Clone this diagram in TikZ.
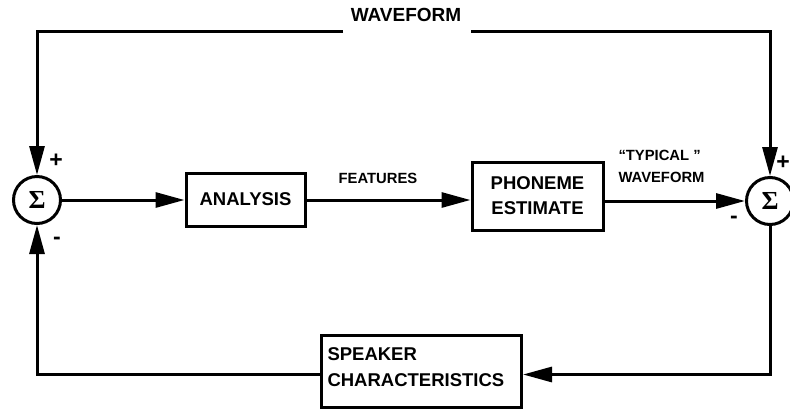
\documentclass[tikz,border=0pt]{standalone}
\usepackage{fontspec}
\setmainfont{Liberation Sans}
\newfontfamily\sigfont{Liberation Serif}
\usetikzlibrary{arrows.meta}
\begin{document}
\begin{tikzpicture}[x=1pt,y=-1pt,
  line width=3pt,
  arr/.style={-{Triangle[length=29pt,width=15pt]}},
  blk/.style={draw, line width=3pt, inner sep=0pt, font=\bfseries\fontsize{18.5}{25}\selectfont},
  sumnode/.style={draw, circle, minimum size=47pt, inner sep=0pt, font=\sigfont\bfseries\fontsize{26}{26}\selectfont},
  lbl/.style={font=\bfseries\fontsize{14.8}{22}\selectfont, inner sep=0pt},
  sgn/.style={font=\bfseries\fontsize{23}{23}\selectfont, inner sep=0pt}
]
\useasboundingbox (0,0) rectangle (790,408);
\clip (0,0) rectangle (790,408);
\node[sumnode] (c1) at (37,200) {Σ};
\node[sumnode] (c2) at (770,201) {Σ};
\node[blk, minimum width=119pt, minimum height=53pt] (ana) at (245.5,199.5) {ANALYSIS};
\node[blk, minimum width=131pt, minimum height=68pt, align=center] (phon) at (537.5,196) {PHONEME\\ESTIMATE};
\node[blk, anchor=north west, minimum width=200pt, minimum height=72pt] (spk) at (320,334) {};
\node[font=\bfseries\fontsize{18.5}{26}\selectfont, anchor=north west, align=left, inner sep=0pt] (spkt) at (326,346) {SPEAKER\\CHARACTERISTICS};

\node[font=\bfseries\fontsize{19}{19}\selectfont, inner sep=0pt] (wf) at (406,15) {WAVEFORM};
\node[lbl] (feat) at (378,178) {FEATURES};
\node[lbl, anchor=west, align=left] (typ) at (617,166) {“TYPICAL ”\\WAVEFORM};

\node[sgn] (p1) at (56,161) {+};
\node[sgn] (m1) at (57,241) {-};
\node[sgn] (p2) at (783,163) {+};
\node[sgn] (m2) at (734,220) {-};

\coordinate (wl) at (343,31);
\coordinate (wr) at (471,31);
\draw[arr] (wl) -| (c1.north);
\draw[arr] (wr) -| (c2.north);
\draw[arr] (c1.east) -- (ana.west |- c1.east);
\draw[arr] (ana.east |- c1.east) -- (phon.west |- c1.east);
\draw[arr] (c2.west -| phon.east) -- (c2.west);
\draw[arr] (c2.south) |- ([yshift=-3pt]spk.east);
\draw[arr] ([yshift=-3pt]spk.west) -| (c1.south);
\end{tikzpicture}
\end{document}
